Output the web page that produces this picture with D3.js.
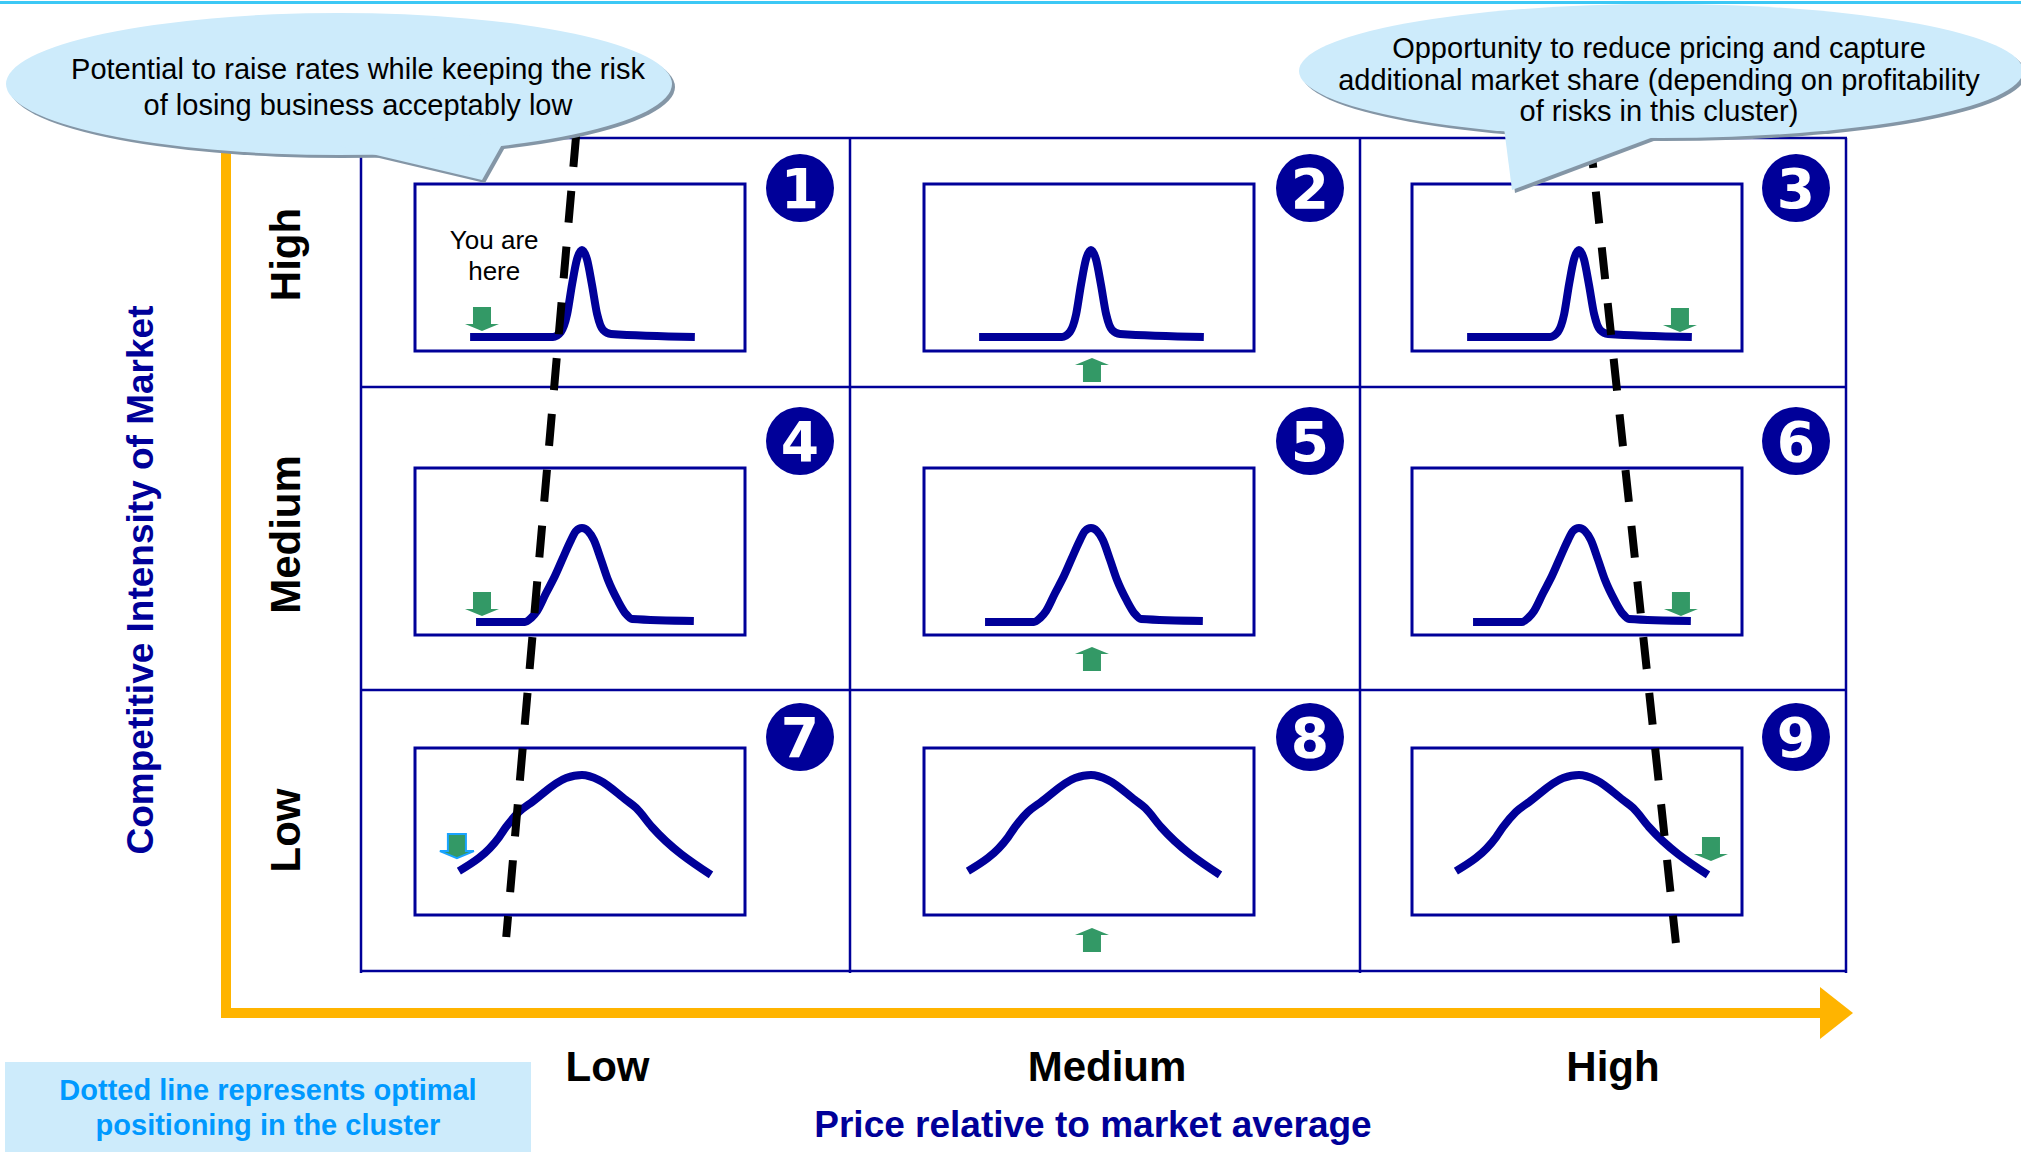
<!DOCTYPE html>
<html>
<head>
<meta charset="utf-8">
<script src="https://cdn.jsdelivr.net/npm/d3@7"></script>
<style>
body { margin: 0; background: #fff; }
svg { display: block; }
text { font-family: "Liberation Sans", Arial, sans-serif; }
</style>
</head>
<body>
<svg id="chart" width="2021" height="1152"></svg>
<script>
// ---- data ----
var priceLevels = ["Low", "Medium", "High"];          // x categories, left to right
var intensityLevels = ["High", "Medium", "Low"];      // y categories, top to bottom
var cellNumbers = [[1, 2, 3], [4, 5, 6], [7, 8, 9]];

// distribution shapes per intensity row: [price index, share of business]
var narrowCurve = [[16.7, 8.4], [41.8, 8.4], [44.2, 11.4], [46.1, 22], [47.6, 40], [49.1, 55], [50.6, 60.5],
    [52.1, 55], [53.6, 40], [55.2, 22], [57, 12.6], [59.4, 10.2], [84.8, 8.4]];
var mediumCurve = [[18.5, 7.8], [33.3, 7.8], [35.2, 10.2], [37, 14.4], [39.7, 25], [42.4, 35.3], [44.8, 46],
    [47, 55.7], [48.8, 62.3], [50.6, 64.1], [52.4, 62.3], [54.2, 56.9], [56.4, 44.9], [58.5, 32.9],
    [61.5, 20.4], [63.9, 12.6], [65.8, 9.6], [84.5, 8.4]];
var wideCurve = [[13.3, 26.3], [25.5, 46.7], [27.6, 52.7], [31.5, 61.7], [35.5, 67.7], [45.8, 82], [50.6, 83.8],
    [55.8, 80.8], [63.9, 68.9], [67, 64.1], [71.8, 52.7], [89.7, 24]];
var rowCurves = [narrowCurve, mediumCurve, wideCurve];

// "you are here" markers: cell, direction, price index, share at the arrow tip
var positionArrows = [
    {cell: 1, dir: "down", price: 20.3, share: 12},
    {cell: 2, dir: "up", price: 50.9, share: -4.2},
    {cell: 3, dir: "down", price: 81.2, share: 11.4},
    {cell: 4, dir: "down", price: 20.3, share: 11.4},
    {cell: 5, dir: "up", price: 50.9, share: -7.2},
    {cell: 6, dir: "down", price: 81.5, share: 11.4},
    {cell: 7, dir: "down", price: 12.7, share: 34.1, outline: true},
    {cell: 8, dir: "up", price: 50.9, share: -7.8},
    {cell: 9, dir: "down", price: 90.6, share: 32.3}
];

// optimal positioning (dotted lines), in grid units [price column, intensity row]
var optimalLow = [[0.44, 3.012], [0.297, 0.121]];
var optimalHigh = [[2.473, 3.008], [2.65, 0.0996]];

var leftNote = ["Potential to raise rates while keeping the risk", "of losing business acceptably low"];
var rightNote = ["Opportunity to reduce pricing and capture",
    "additional market share (depending on profitability", "of risks in this cluster)"];
var legendNote = ["Dotted line represents optimal", "positioning in the cluster"];
var xTitle = "Price relative to market average";
var yTitle = "Competitive Intensity of Market";

// ---- drawing ----
var svg = d3.select("#chart");
var navy = "#000099";

var gx = d3.scaleLinear().domain([0, 1, 2, 3]).range([361, 850, 1360, 1846]);
var gy = d3.scaleLinear().domain([0, 1, 2, 3]).range([971, 690, 387, 138]);

var boxX = [415, 924, 1412], boxY = [184, 468, 748], boxW = 330, boxH = 167;
var badgeDy = [50, 54, 47];      // number badge offset below each row's top line
var rowLabelDy = [-8, -4, 0];

// orange axes
svg.append("path")
    .attr("d", "M226,140 L226,1013 L1822,1013")
    .attr("fill", "none").attr("stroke", "#ffb400").attr("stroke-width", 10)
    .attr("stroke-linejoin", "miter");
svg.append("path")
    .attr("d", "M1820,987 L1853,1013 L1820,1039 Z")
    .attr("fill", "#ffb400");

// grid
var gridG = svg.append("g").attr("stroke", navy).attr("stroke-width", 2.5);
gridG.selectAll(".vl").data([0, 1, 2, 3]).enter().append("line").attr("class", "vl")
    .attr("x1", function(d) { return gx(d); }).attr("x2", function(d) { return gx(d); })
    .attr("y1", gy(3)).attr("y2", gy(0) + 2);
gridG.selectAll(".hl").data([0, 1, 2, 3]).enter().append("line").attr("class", "hl")
    .attr("x1", gx(0)).attr("x2", gx(3) + 1)
    .attr("y1", function(d) { return gy(d); }).attr("y2", function(d) { return gy(d); });

// cells
var cells = [];
intensityLevels.forEach(function(r, ri) {
    priceLevels.forEach(function(c, ci) {
        var bx = d3.scaleLinear().domain([0, 100]).range([boxX[ci], boxX[ci] + boxW]);
        var by = d3.scaleLinear().domain([0, 100]).range([boxY[ri] + boxH, boxY[ri]]);
        cells.push({row: ri, col: ci, num: cellNumbers[ri][ci], curve: rowCurves[ri], bx: bx, by: by});
    });
});

var cellG = svg.selectAll(".cell").data(cells).enter().append("g").attr("class", "cell");

cellG.append("rect")
    .attr("x", function(d) { return d.bx(0); })
    .attr("y", function(d) { return d.by(100); })
    .attr("width", boxW).attr("height", boxH)
    .attr("fill", "none").attr("stroke", navy).attr("stroke-width", 3);

cellG.append("path")
    .attr("d", function(d) {
        return d3.line().x(function(p) { return d.bx(p[0]); }).y(function(p) { return d.by(p[1]); })
            .curve(d3.curveMonotoneX)(d.curve);
    })
    .attr("fill", "none").attr("stroke", navy).attr("stroke-width", 8)
    .attr("stroke-linejoin", "round");

cellG.append("circle")
    .attr("cx", function(d) { return gx(d.col + 1) - 50; })
    .attr("cy", function(d) { return gy(3 - d.row) + badgeDy[d.row]; })
    .attr("r", 34).attr("fill", navy);
cellG.append("text")
    .attr("x", function(d) { return gx(d.col + 1) - 50; })
    .attr("y", function(d) { return gy(3 - d.row) + badgeDy[d.row]; })
    .attr("dy", "0.36em")
    .attr("text-anchor", "middle")
    .style("font-family", "'DejaVu Sans', sans-serif")
    .style("font-weight", "bold").style("font-size", "55px")
    .attr("fill", "#fff")
    .text(function(d) { return d.num; });

// green arrows
function arrowPath(tx, ty, dir) {
    var s = dir == "down" ? 1 : -1;
    return "M" + (tx - 9) + "," + (ty - s * 24) + "L" + (tx + 9) + "," + (ty - s * 24) +
        "L" + (tx + 9) + "," + (ty - s * 7) + "L" + (tx + 17) + "," + (ty - s * 7) +
        "L" + tx + "," + ty + "L" + (tx - 17) + "," + (ty - s * 7) +
        "L" + (tx - 9) + "," + (ty - s * 7) + "Z";
}
svg.selectAll(".arr").data(positionArrows).enter().append("path").attr("class", "arr")
    .attr("d", function(a) {
        var c = cells[a.cell - 1];
        return arrowPath(c.bx(a.price), c.by(a.share), a.dir);
    })
    .attr("fill", "#339966")
    .attr("stroke", function(a) { return a.outline ? "#1aa3ff" : "none"; })
    .attr("stroke-width", 2);

// "You are here"
var c1 = cells[0];
svg.append("text").attr("x", c1.bx(24)).attr("y", c1.by(0) - 102)
    .attr("text-anchor", "middle").style("font-size", "26px").text("You are");
svg.append("text").attr("x", c1.bx(24)).attr("y", c1.by(0) - 71)
    .attr("text-anchor", "middle").style("font-size", "26px").text("here");

// dotted optimal lines
var optLine = d3.line().x(function(p) { return gx(p[0]); }).y(function(p) { return gy(p[1]); });
svg.selectAll(".opt").data([optimalLow, optimalHigh]).enter().append("path").attr("class", "opt")
    .attr("d", optLine)
    .attr("stroke", "#000").attr("stroke-width", 8).attr("stroke-dasharray", "32,24").attr("fill", "none");

// row labels
svg.selectAll(".rowlab").data(intensityLevels).enter().append("text").attr("class", "rowlab")
    .attr("transform", function(d, i) {
        return "translate(300," + ((gy(3 - i) + gy(2 - i)) / 2 + rowLabelDy[i]) + ") rotate(-90)";
    })
    .attr("text-anchor", "middle")
    .style("font-size", "42px").style("font-weight", "bold")
    .text(function(d) { return d; });

// column labels
svg.selectAll(".collab").data(priceLevels).enter().append("text").attr("class", "collab")
    .attr("x", function(d, i) { return (gx(i) + gx(i + 1)) / 2 + (i == 2 ? 10 : 2); })
    .attr("y", 1081)
    .attr("text-anchor", "middle")
    .style("font-size", "42px").style("font-weight", "bold")
    .text(function(d) { return d; });

// axis titles
svg.append("text").attr("x", 1093).attr("y", 1137).attr("text-anchor", "middle")
    .style("font-size", "37px").style("font-weight", "bold").attr("fill", navy).text(xTitle);
svg.append("text").attr("transform", "translate(153,580) rotate(-90)").attr("text-anchor", "middle")
    .style("font-size", "37px").style("font-weight", "bold").attr("fill", navy).text(yTitle);

// legend box
svg.append("rect").attr("x", 5).attr("y", 1062).attr("width", 526).attr("height", 90).attr("fill", "#cdebfb");
svg.selectAll(".leg").data(legendNote).enter().append("text").attr("class", "leg")
    .attr("x", 268).attr("y", function(d, i) { return 1100 + i * 35; })
    .attr("text-anchor", "middle")
    .style("font-size", "29px").style("font-weight", "bold").attr("fill", "#0099ff")
    .text(function(d) { return d; });

// callout bubbles
function bubble(cx, cy, rx, ry, tail, lines, textX, baselines) {
    var g = svg.append("g");
    var tailStr = tail.map(function(p) { return p.join(","); }).join(" ");
    var sh = g.append("g").attr("transform", "translate(3,3)").attr("fill", "#8496a6");
    sh.append("ellipse").attr("cx", cx).attr("cy", cy).attr("rx", rx).attr("ry", ry);
    sh.append("polygon").attr("points", tailStr);
    g.append("ellipse").attr("cx", cx).attr("cy", cy).attr("rx", rx).attr("ry", ry).attr("fill", "#cdebfb");
    g.append("polygon").attr("points", tailStr).attr("fill", "#cdebfb");
    g.selectAll("text").data(lines).enter().append("text")
        .attr("x", textX).attr("y", function(d, i) { return baselines[i]; })
        .attr("text-anchor", "middle").style("font-size", "29px")
        .text(function(d) { return d; });
}
bubble(339, 84, 333, 71, [[338, 146], [482, 180], [509, 132]], leftNote, 358, [79, 115]);
bubble(1661, 71, 362, 67, [[1503, 120], [1512, 190], [1680, 127]], rightNote, 1659, [58, 90, 121]);

// top rule
svg.append("rect").attr("x", 0).attr("y", 1).attr("width", 2021).attr("height", 3).attr("fill", "#3cc8f5");
</script>
</body>
</html>
